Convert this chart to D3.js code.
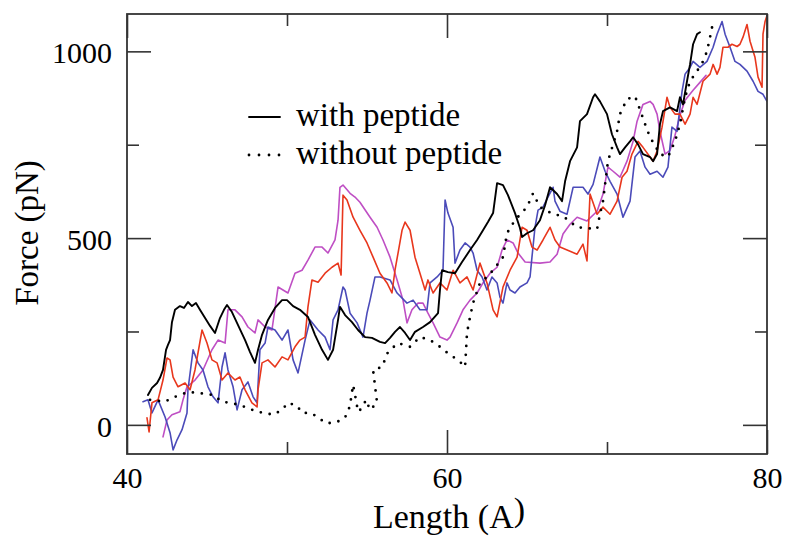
<!DOCTYPE html>
<html>
<head>
<meta charset="utf-8">
<script src="https://cdn.jsdelivr.net/npm/d3@7"></script>
<style>
  html, body { margin: 0; padding: 0; background: #fff; }
  svg { display: block; }
  text { font-family: "Liberation Serif", "Times New Roman", serif; fill: #000; }
</style>
</head>
<body>
<div id="chart"></div>
<script>
// traces: [length (A), force (pN)]
var withPeptide = [[41.31,80],[41.56,99],[41.88,112],[42.06,126],[42.25,147],[42.44,201],[42.56,214],[42.69,227],[42.81,275],[43.0,308],[43.31,318],[43.56,313],[43.81,329],[44.06,318],[44.31,326],[44.56,308],[44.88,286],[45.19,265],[45.5,246],[45.81,286],[46.06,308],[46.25,321],[46.56,302],[46.94,267],[47.38,227],[47.69,195],[48.0,166],[48.19,201],[48.44,241],[48.81,281],[49.25,313],[49.69,334],[50.0,334],[50.38,318],[50.81,308],[51.31,289],[51.75,241],[52.19,201],[52.56,174],[52.88,201],[53.19,281],[53.31,316],[53.63,294],[54.06,275],[54.44,254],[54.88,235],[55.31,233],[55.81,222],[56.13,219],[56.44,233],[56.75,249],[57.06,262],[57.38,246],[57.69,227],[58.0,249],[58.5,262],[58.94,275],[59.44,299],[59.56,361],[59.69,414],[60.06,409],[60.5,406],[60.94,436],[61.44,468],[61.88,495],[62.25,521],[62.56,543],[62.88,567],[63.13,647],[63.5,642],[63.81,615],[64.25,567],[64.56,527],[64.69,503],[65.0,513],[65.38,521],[65.81,548],[66.13,588],[66.44,636],[66.88,618],[67.19,599],[67.38,652],[67.69,706],[68.13,743],[68.31,813],[68.75,832],[69.13,877],[69.25,885],[69.56,866],[70.0,832],[70.31,778],[70.63,743],[70.81,725],[71.13,743],[71.44,759],[71.63,770],[71.94,751],[72.25,725],[72.69,717],[72.88,706],[73.13,725],[73.31,805],[73.5,840],[73.94,850],[74.38,840],[74.56,877],[74.75,858],[75.0,920],[75.19,965],[75.38,1019],[75.63,1046],[75.81,1051]];

var withoutPeptide = [[41.44,67],[42.38,62],[42.81,72],[43.81,88],[44.38,86],[44.88,83],[45.38,80],[45.94,62],[46.44,59],[47.06,53],[47.56,45],[48.13,35],[48.63,32],[49.13,27],[49.69,40],[50.06,59],[50.63,51],[50.94,32],[51.44,32],[51.94,21],[52.38,5],[52.88,5],[53.44,13],[53.75,27],[53.94,53],[54.13,107],[54.31,67],[54.44,35],[54.69,45],[54.94,67],[55.19,40],[55.63,59],[55.38,147],[55.94,155],[56.31,195],[56.94,219],[57.69,209],[58.31,235],[58.94,227],[59.56,209],[60.19,187],[60.69,174],[61.13,155],[61.25,246],[61.44,289],[61.63,326],[62.06,380],[62.5,396],[62.88,414],[63.5,449],[63.75,513],[64.25,548],[65.0,583],[65.38,620],[65.81,583],[66.63,564],[67.25,559],[68.13,529],[69.38,524],[69.56,564],[69.75,599],[70.06,706],[70.63,786],[70.81,832],[71.25,872],[71.75,880],[71.94,858],[72.38,805],[72.69,770],[73.31,725],[73.81,717],[74.25,759],[74.56,805],[74.88,877],[75.19,920],[75.63,947],[76.0,973],[76.25,1000],[76.44,1038],[76.63,1078]];

var runRed = [[41.25,19],[41.38,-19],[41.56,59],[41.94,67],[42.25,120],[42.5,179],[42.69,174],[42.88,128],[43.19,102],[43.63,112],[43.94,94],[44.25,147],[44.69,254],[45.0,219],[45.31,174],[45.63,166],[45.94,120],[46.31,139],[46.75,120],[47.06,128],[47.38,94],[47.81,59],[48.13,48],[48.19,94],[48.44,166],[48.81,174],[49.25,155],[49.69,182],[50.06,174],[50.5,209],[50.81,227],[51.13,235],[51.31,316],[51.56,388],[51.94,382],[52.38,406],[52.81,422],[53.19,433],[53.38,401],[53.5,615],[53.75,602],[54.13,556],[54.56,521],[55.0,487],[55.38,449],[55.81,406],[56.25,380],[56.56,353],[56.75,414],[56.94,460],[57.19,521],[57.38,543],[57.69,521],[58.0,449],[58.31,406],[58.63,361],[58.81,388],[59.13,353],[59.56,380],[60.0,361],[60.38,414],[60.81,380],[61.25,396],[61.63,361],[62.06,433],[62.5,380],[62.88,308],[63.13,289],[63.5,369],[63.94,414],[64.38,449],[64.69,529],[65.0,521],[65.31,476],[65.63,468],[66.0,495],[66.44,529],[66.75,495],[67.06,476],[67.69,465],[68.13,457],[68.5,484],[68.75,439],[68.94,618],[69.38,564],[69.75,583],[70.19,564],[70.63,599],[70.94,663],[71.25,679],[71.56,725],[71.94,759],[72.25,743],[72.69,717],[72.88,706],[73.13,733],[73.44,797],[73.75,877],[73.94,850],[74.25,832],[74.56,832],[74.88,805],[75.19,832],[75.38,877],[75.63,858],[76.0,920],[76.44,939],[76.63,965],[76.88,939],[77.06,957],[77.25,1011],[77.56,1011],[77.81,1019],[78.13,1013],[78.31,1019],[78.5,1038],[78.75,1072],[78.94,1027],[79.25,984],[79.44,931],[79.69,904],[79.75,1046],[79.88,1080],[80.0,1096]];

var runPurple = [[42.25,-32],[42.5,13],[42.81,27],[43.31,35],[43.5,67],[43.75,102],[44.25,120],[44.75,147],[45.31,201],[45.69,227],[46.13,219],[46.31,308],[46.75,308],[47.19,289],[47.56,262],[48.0,246],[48.19,281],[48.63,262],[49.06,254],[49.44,369],[50.06,353],[50.5,406],[50.94,414],[51.31,441],[51.75,476],[52.19,476],[52.56,460],[53.0,495],[53.19,548],[53.31,636],[53.5,642],[53.94,620],[54.25,610],[54.56,596],[55.19,556],[55.63,529],[56.0,495],[56.44,449],[56.88,388],[57.25,334],[57.5,273],[57.81,308],[58.19,326],[58.5,326],[58.81,299],[59.13,273],[59.56,235],[60.0,227],[60.19,235],[60.63,273],[61.0,308],[61.44,334],[61.88,353],[62.25,380],[62.69,406],[63.13,422],[63.44,468],[63.75,495],[64.13,487],[64.44,460],[64.88,436],[65.81,433],[66.44,436],[66.88,457],[67.25,511],[67.69,537],[68.13,556],[68.75,546],[69.38,572],[69.75,618],[70.06,690],[70.38,679],[70.81,663],[71.25,706],[71.63,759],[71.88,813],[72.25,858],[72.69,866],[72.88,858],[73.13,832],[73.31,786],[73.63,725],[73.94,735],[74.25,775],[74.56,829],[74.88,869],[75.38,896],[75.81,917],[76.19,936]];

var runBlue = [[41.0,62],[41.31,67],[41.56,32],[41.94,67],[42.38,21],[42.69,-21],[42.88,-67],[43.13,-40],[43.44,-13],[43.75,32],[43.81,94],[44.13,201],[44.44,166],[44.75,147],[45.06,102],[45.38,75],[45.69,59],[45.94,155],[46.13,193],[46.31,147],[46.63,102],[46.88,40],[47.19,94],[47.56,115],[47.88,75],[48.13,59],[48.31,201],[48.63,219],[48.81,262],[49.25,254],[49.69,227],[50.06,254],[50.38,174],[50.69,139],[51.13,227],[51.44,281],[51.94,254],[52.38,235],[52.69,201],[52.88,281],[53.19,308],[53.5,369],[53.63,361],[53.94,299],[54.38,273],[54.75,235],[55.0,299],[55.19,334],[55.5,396],[55.81,396],[56.44,388],[56.88,353],[57.5,326],[57.88,334],[58.31,308],[58.75,308],[58.94,380],[59.38,396],[59.75,414],[59.88,602],[60.06,567],[60.38,529],[60.5,433],[60.81,468],[61.13,487],[61.44,476],[61.63,460],[61.88,414],[62.19,396],[62.5,361],[62.81,396],[63.13,380],[63.31,342],[63.5,326],[63.75,380],[63.94,361],[64.25,353],[64.56,369],[65.0,380],[65.19,396],[65.31,449],[65.5,529],[65.69,575],[66.0,583],[66.31,610],[66.63,636],[66.75,599],[67.06,572],[67.5,564],[67.88,636],[68.5,636],[68.81,618],[69.13,644],[69.56,717],[69.88,679],[70.19,652],[70.63,618],[71.0,556],[71.44,599],[71.75,717],[72.06,733],[72.38,690],[72.69,671],[73.13,679],[73.5,663],[73.81,690],[74.06,797],[74.38,786],[74.69,893],[74.88,939],[75.19,957],[75.38,973],[75.81,957],[76.25,973],[76.63,1011],[76.88,1046],[77.19,1080],[77.38,1046],[77.69,1011],[78.0,973],[78.31,965],[78.75,947],[79.13,920],[79.44,893],[79.75,885],[80.0,866]];

var xMajor = [40, 60, 80];
var xMinor = [50, 70];
var yMajor = [0, 500, 1000];
var yMinor = [250, 750];
var legendLabels = ["with peptide", "without peptide"];

var width = 785;
var height = 536;
var plotLeft = 127, plotRight = 767, plotTop = 14, plotBottom = 454;

var x = d3.scaleLinear().domain([40, 80]).range([plotLeft, plotRight]);
var y = d3.scaleLinear().domain([-78, 1100]).range([plotBottom, plotTop]);

var svg = d3.select("#chart").append("svg")
    .attr("width", width)
    .attr("height", height);

svg.append("clipPath").attr("id", "plot-clip")
    .append("rect")
    .attr("x", plotLeft).attr("y", plotTop)
    .attr("width", plotRight - plotLeft).attr("height", plotBottom - plotTop);

var line = d3.line()
    .x(function (d) { return x(d[0]); })
    .y(function (d) { return y(d[1]); });

var series = [
    { data: runPurple, color: "#bf4fc4", width: 1.6, dash: null },
    { data: runBlue, color: "#4b4bb9", width: 1.6, dash: null },
    { data: runRed, color: "#e8371d", width: 1.6, dash: null },
    { data: withoutPeptide, color: "#000", width: 2.8, dash: "0 9" },
    { data: withPeptide, color: "#000", width: 1.9, dash: null }
];

var plot = svg.append("g").attr("clip-path", "url(#plot-clip)");
plot.selectAll("path")
    .data(series)
    .enter()
    .append("path")
    .attr("d", function (d) { return line(d.data); })
    .attr("fill", "none")
    .attr("stroke", function (d) { return d.color; })
    .attr("stroke-width", function (d) { return d.width; })
    .attr("stroke-linejoin", "round")
    .attr("stroke-linecap", "round")
    .attr("stroke-dasharray", function (d) { return d.dash; });

// ticks on all four sides, pointing inward
function styleAxis(g) {
    g.select(".domain").remove();
    g.selectAll(".tick line").attr("stroke", "#333").attr("stroke-width", 1.6);
    g.selectAll("text")
        .attr("font-family", "Liberation Serif, serif")
        .attr("font-size", 30)
        .attr("fill", "#000");
}

svg.append("g").attr("transform", "translate(0," + plotBottom + ")")
    .call(d3.axisBottom(x).tickValues(xMajor).tickSize(-24).tickPadding(13).tickFormat(d3.format("d")))
    .call(styleAxis);
svg.append("g").attr("transform", "translate(0," + plotBottom + ")")
    .call(d3.axisBottom(x).tickValues(xMinor).tickSize(-12).tickFormat(""))
    .call(styleAxis);
svg.append("g").attr("transform", "translate(0," + plotTop + ")")
    .call(d3.axisTop(x).tickValues(xMajor).tickSize(-24).tickFormat(""))
    .call(styleAxis);
svg.append("g").attr("transform", "translate(0," + plotTop + ")")
    .call(d3.axisTop(x).tickValues(xMinor).tickSize(-12).tickFormat(""))
    .call(styleAxis);

var yAxis = svg.append("g").attr("transform", "translate(" + plotLeft + ",0)")
    .call(d3.axisLeft(y).tickValues(yMajor).tickSize(-24).tickPadding(15).tickFormat(d3.format("d")))
    .call(styleAxis);
yAxis.selectAll("text").attr("dy", "0.38em");
svg.append("g").attr("transform", "translate(" + plotLeft + ",0)")
    .call(d3.axisLeft(y).tickValues(yMinor).tickSize(-12).tickFormat(""))
    .call(styleAxis);
svg.append("g").attr("transform", "translate(" + plotRight + ",0)")
    .call(d3.axisRight(y).tickValues(yMajor).tickSize(-24).tickFormat(""))
    .call(styleAxis);
svg.append("g").attr("transform", "translate(" + plotRight + ",0)")
    .call(d3.axisRight(y).tickValues(yMinor).tickSize(-12).tickFormat(""))
    .call(styleAxis);

svg.append("rect")
    .attr("x", plotLeft).attr("y", plotTop)
    .attr("width", plotRight - plotLeft).attr("height", plotBottom - plotTop)
    .attr("fill", "none")
    .attr("stroke", "#333")
    .attr("stroke-width", 1.8);

// axis titles
var xTitle = svg.append("text")
    .attr("x", 373).attr("y", 528)
    .attr("font-size", 34);
xTitle.append("tspan").text("Length (A");
xTitle.append("tspan").attr("dy", -7).text(")");

svg.append("text")
    .attr("transform", "translate(38,233) rotate(-90)")
    .attr("text-anchor", "middle")
    .attr("font-size", 33)
    .text("Force (pN)");

// legend
var legend = svg.append("g");
legendLabels.forEach(function (label, i) {
    var ly = 117 + i * 38;
    legend.append("line")
        .attr("x1", 249).attr("x2", 280)
        .attr("y1", ly).attr("y2", ly)
        .attr("stroke", "#000")
        .attr("stroke-width", i === 0 ? 1.9 : 2.8)
        .attr("stroke-linecap", "round")
        .attr("stroke-dasharray", i === 0 ? null : "0 10");
    legend.append("text")
        .attr("x", 296).attr("y", ly + 9)
        .attr("font-size", 33)
        .text(label);
});
</script>
</body>
</html>
